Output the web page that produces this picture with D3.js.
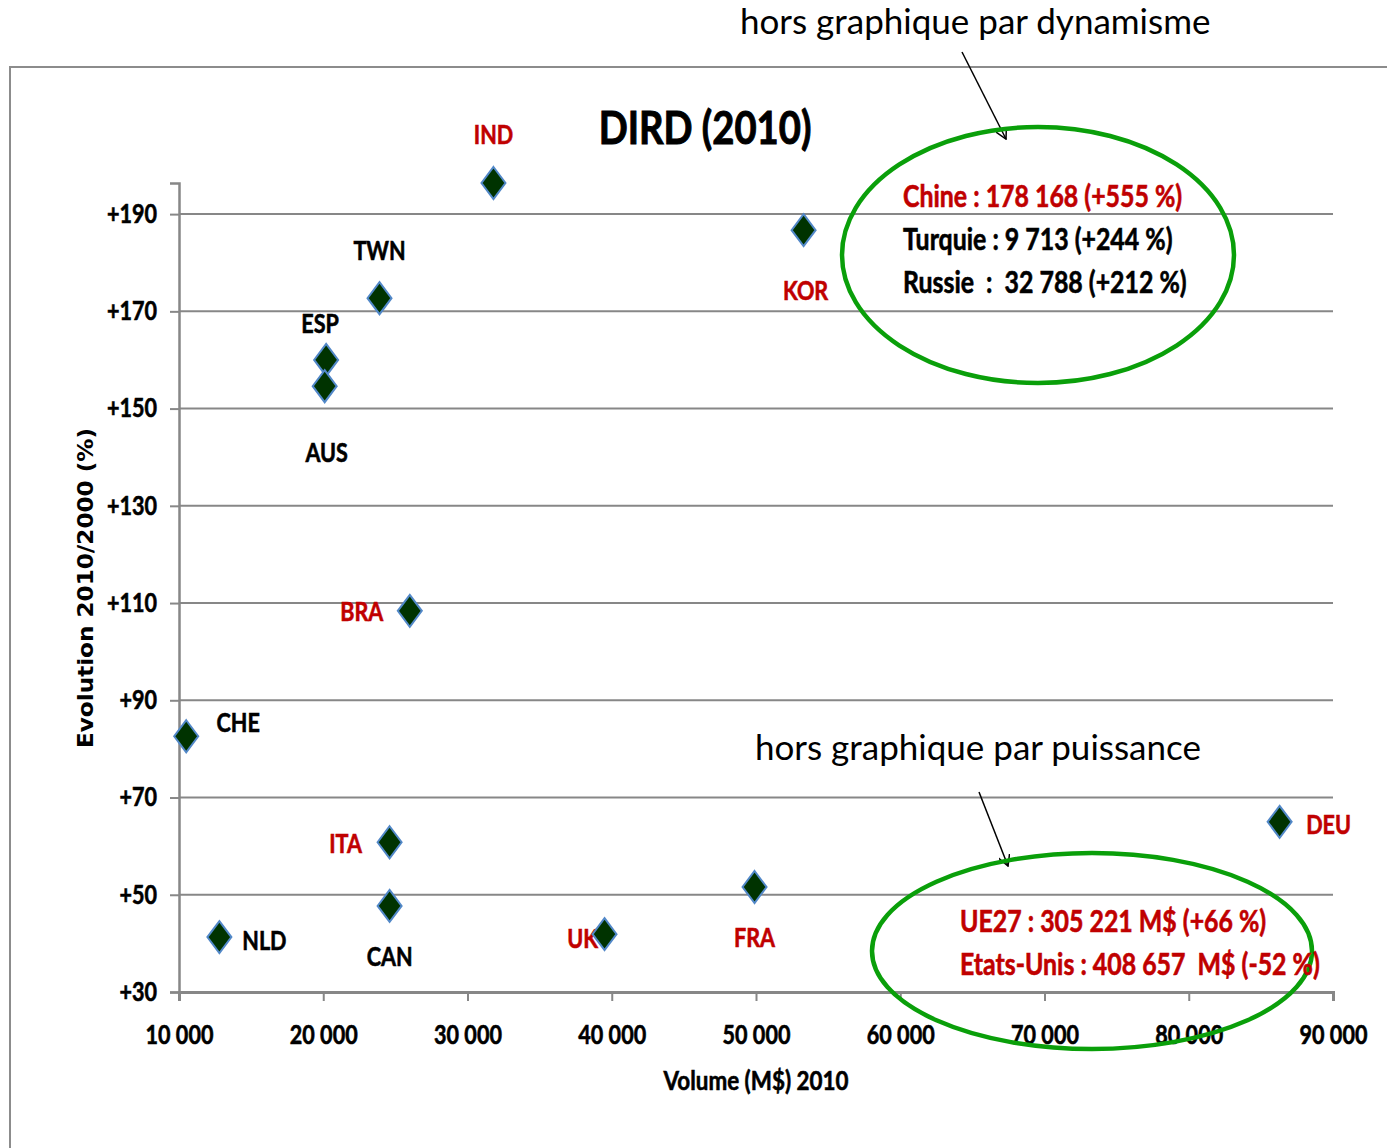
<!DOCTYPE html>
<html>
<head>
<meta charset="utf-8">
<script src="https://cdn.jsdelivr.net/npm/d3@7"></script>
<style>
  html, body { margin: 0; padding: 0; background: #fff; }
  svg { display: block; }
  text { white-space: pre; }
  .cond { font-family: Lato, "Noto Sans", sans-serif; font-weight: bold; stroke-width: 0.6; }
</style>
</head>
<body>
<svg id="chart" width="1387" height="1148"></svg>
<script>
// ---- data ----
const countries = ["IND", "KOR", "TWN", "ESP", "AUS", "BRA", "CHE", "ITA", "CAN", "NLD", "UK", "FRA", "DEU"];
const volume    = [31800, 53300, 23900, 20200, 20100, 26000, 10500, 24600, 24600, 12800, 39500, 49900, 86300];
const evolution = [196.4, 186.7, 172.7, 160.0, 154.6, 108.4, 82.6, 60.8, 47.7, 41.3, 41.9, 51.6, 65.0];
const highlighted = ["IND", "KOR", "BRA", "ITA", "UK", "FRA", "DEU"];
const xTicks = [10000, 20000, 30000, 40000, 50000, 60000, 70000, 80000, 90000];
const yTicks = [30, 50, 70, 90, 110, 130, 150, 170, 190];
const title = "DIRD (2010)";
const xTitle = "Volume (M$) 2010";
const yTitle = "Evolution 2010/2000 (%)";
const noteTop = "hors graphique par dynamisme";
const noteTopLines = ["Chine : 178 168 (+555 %)", "Turquie : 9 713 (+244 %)", "Russie  :  32 788 (+212 %)"];
const noteTopRed = [true, false, false];
const noteBottom = "hors graphique par puissance";
const noteBottomLines = ["UE27 : 305 221 M$ (+66 %)", "Etats-Unis : 408 657  M$ (-52 %)"];

// ---- layout (label offsets from point, px) ----
const labelOffsets = {
  IND: [0, -48], KOR: [2, 60], TWN: [0, -48], ESP: [-6, -36], AUS: [2, 66],
  BRA: [-48, 1], CHE: [52, -14], ITA: [-44, 1], CAN: [0, 51], NLD: [45, 4],
  UK: [-22, 4], FRA: [0, 51], DEU: [49, 3]
};
const SQUEEZE = 0.83;

const RED = "#c00000";
const GREEN = "#0a9f0a";
const GRID = "#878787";

const svg = d3.select("#chart");

// outer frame
svg.append("rect").attr("x", 10).attr("y", 67).attr("width", 1400).attr("height", 1100)
  .attr("fill", "none").attr("stroke", "#8c8c8c").attr("stroke-width", 2);

const x = d3.scaleLinear().domain([10000, 90000]).range([179, 1333]);
const y = d3.scaleLinear().domain([30, 196.4]).range([992, 183]);

// gridlines
svg.append("g").selectAll("line").data(yTicks.slice(1)).join("line")
  .attr("x1", x(10000)).attr("x2", x(90000))
  .attr("y1", d => y(d)).attr("y2", d => y(d))
  .attr("stroke", GRID).attr("stroke-width", 2);

// y axis
const yAxis = d3.axisLeft(y).tickValues(yTicks).tickSize(9).tickPadding(13)
  .tickFormat(d => "+" + d);
const gy = svg.append("g").attr("transform", `translate(${x(10000)},0)`).call(yAxis);
gy.select(".domain").attr("stroke", GRID).attr("stroke-width", 2.5);
gy.selectAll(".tick line").attr("stroke", GRID).attr("stroke-width", 2);
gy.selectAll(".tick text").attr("class", "cond").attr("font-size", 26).attr("fill", "#000").attr("stroke", "#000");

// x axis
const fmt = d => d3.format(",")(d).replace(/,/g, " ");
const xAxis = d3.axisBottom(x).tickValues(xTicks).tickSize(9).tickPadding(25).tickFormat(fmt);
const gx = svg.append("g").attr("transform", `translate(0,${y(30)})`).call(xAxis);
gx.select(".domain").attr("stroke", GRID).attr("stroke-width", 3);
gx.selectAll(".tick line").attr("stroke", GRID).attr("stroke-width", 2);
gx.selectAll(".tick text").attr("class", "cond").attr("font-size", 26).attr("fill", "#000").attr("stroke", "#000");

// axis titles
svg.append("text").attr("class", "cond").attr("x", 756).attr("y", 1090)
  .attr("text-anchor", "middle").attr("font-size", 27).attr("fill", "#000").attr("stroke", "#000").text(xTitle);
svg.append("text").attr("transform", "translate(93,588) rotate(-90)")
  .attr("text-anchor", "middle").attr("font-family", "'DejaVu Sans', Verdana, sans-serif").attr("font-weight", "bold")
  .attr("font-size", 21).attr("textLength", 320).attr("lengthAdjust", "spacingAndGlyphs").text(yTitle);

// title
svg.append("text").attr("class", "cond").attr("x", 705).attr("y", 144)
  .attr("text-anchor", "middle").attr("font-size", 46).attr("fill", "#000").attr("stroke", "#000")
  .style("stroke-width", 1).text(title);

// points
const pts = countries.map((c, i) => ({ c, v: volume[i], e: evolution[i] }));

svg.append("g").selectAll("text").data(pts).join("text")
  .attr("class", "cond")
  .attr("x", d => x(d.v) + labelOffsets[d.c][0])
  .attr("y", d => y(d.e) + labelOffsets[d.c][1])
  .attr("dy", "0.36em")
  .attr("text-anchor", "middle").attr("font-size", 26)
  .attr("fill", d => highlighted.includes(d.c) ? RED : "#000")
  .attr("stroke", d => highlighted.includes(d.c) ? RED : "#000")
  .text(d => d.c);

svg.append("g").selectAll("path").data(pts).join("path")
  .attr("transform", d => `translate(${x(d.v)},${y(d.e)})`)
  .attr("d", "M0,-16L12,0L0,16L-12,0Z")
  .attr("fill", "#003300").attr("stroke", "#5288c8").attr("stroke-width", 2);

// annotations
const ann = svg.append("g");
ann.append("text").attr("x", 740).attr("y", 34).attr("font-family", "Lato, 'Open Sans', sans-serif")
  .attr("font-size", 35).attr("fill", "#000").text(noteTop);
ann.append("text").attr("x", 755).attr("y", 760).attr("font-family", "Lato, 'Open Sans', sans-serif")
  .attr("font-size", 35).attr("fill", "#000").text(noteBottom);

// arrows
svg.append("defs").append("marker").attr("id", "arr").attr("viewBox", "0 0 12 12")
  .attr("refX", 11).attr("refY", 6).attr("markerWidth", 12).attr("markerHeight", 12)
  .attr("markerUnits", "userSpaceOnUse").attr("orient", "auto")
  .append("path").attr("d", "M0,0L11,6L0,12").attr("fill", "none").attr("stroke", "#000").attr("stroke-width", 1.5);
ann.append("line").attr("x1", 962).attr("y1", 52).attr("x2", 1006).attr("y2", 139)
  .attr("stroke", "#000").attr("stroke-width", 1.5).attr("marker-end", "url(#arr)");
ann.append("line").attr("x1", 979).attr("y1", 792).attr("x2", 1008).attr("y2", 866)
  .attr("stroke", "#000").attr("stroke-width", 1.5).attr("marker-end", "url(#arr)");

// ellipses
ann.append("ellipse").attr("cx", 1038).attr("cy", 255).attr("rx", 196).attr("ry", 128)
  .attr("fill", "none").attr("stroke", GREEN).attr("stroke-width", 4.5);
ann.append("ellipse").attr("cx", 1092).attr("cy", 951).attr("rx", 220).attr("ry", 98)
  .attr("fill", "none").attr("stroke", GREEN).attr("stroke-width", 4.5);

ann.selectAll("text.top").data(noteTopLines).join("text")
  .attr("class", "cond top").attr("x", 903).attr("y", (d, i) => 207 + i * 43)
  .attr("font-size", 30)
  .attr("fill", (d, i) => noteTopRed[i] ? RED : "#000")
  .attr("stroke", (d, i) => noteTopRed[i] ? RED : "#000").text(d => d);
ann.selectAll("text.bot").data(noteBottomLines).join("text")
  .attr("class", "cond bot").attr("x", 960).attr("y", (d, i) => 932 + i * 43)
  .attr("font-size", 30).attr("fill", RED).attr("stroke", RED).text(d => d);

// horizontally condense the bold labels (the reference uses a narrow face)
svg.selectAll("text.cond").each(function () {
  const t = d3.select(this);
  const tx = +t.attr("x") || 0, ty = +t.attr("y") || 0;
  t.attr("x", 0).attr("y", 0)
   .attr("transform", `translate(${tx},${ty}) scale(${SQUEEZE},1)`);
});
</script>
</body>
</html>
